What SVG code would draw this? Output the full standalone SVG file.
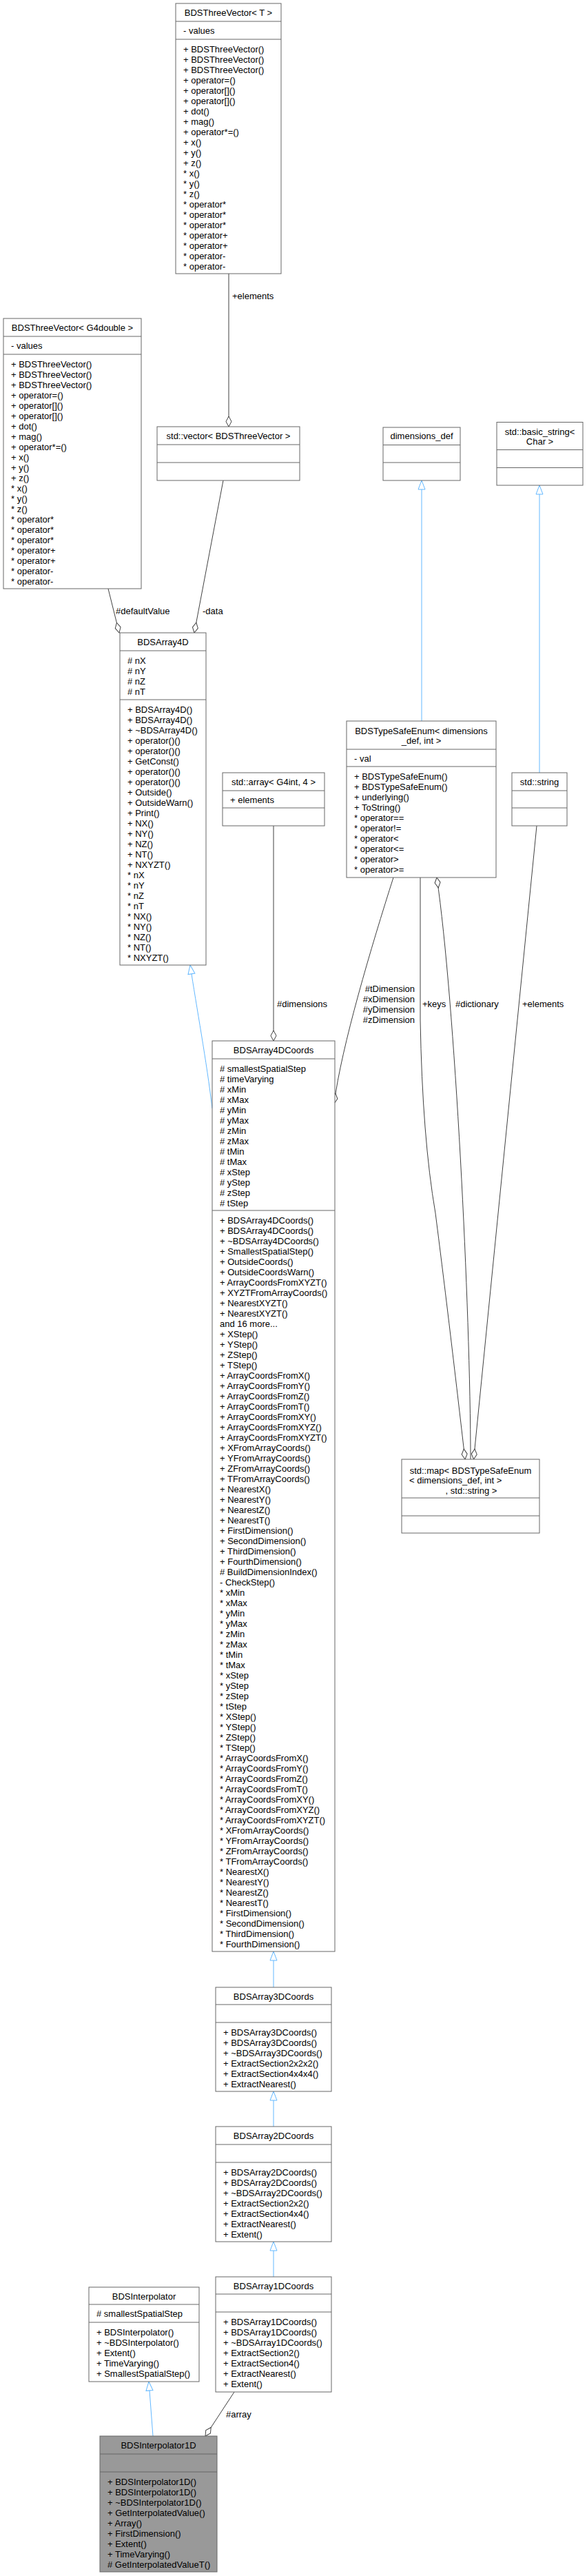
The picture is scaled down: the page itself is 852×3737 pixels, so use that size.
<svg xmlns="http://www.w3.org/2000/svg" width="852" height="3737" viewBox="0 0 852 3737">
<style>
.bg{fill:#fff}
.box{fill:#fff;stroke:#666;stroke-width:1}
.cur{fill:#999;stroke:#666;stroke-width:1}
.sep{stroke:#666;stroke-width:1}
text{font-family:"Liberation Sans",Arial,Helvetica,sans-serif;font-size:13px;fill:#000}
.c{text-anchor:middle}
.r{text-anchor:end}
.e{fill:none;stroke:#404040;stroke-width:1}
.i{fill:none;stroke:#63b8ff;stroke-width:1}
</style>
<defs>
<marker id="dia" viewBox="-16 -6 17 12" refX="0" refY="0" markerWidth="17" markerHeight="12" markerUnits="userSpaceOnUse" orient="auto">
<polygon points="0,0 -7.5,-4 -15,0 -7.5,4" fill="#fff" stroke="#404040" stroke-width="1"/>
</marker>
<marker id="tri" viewBox="-15 -7 16 14" refX="0" refY="0" markerWidth="16" markerHeight="14" markerUnits="userSpaceOnUse" orient="auto">
<polygon points="0,0 -13,-5 -13,5" fill="#fff" stroke="#63b8ff" stroke-width="1"/>
</marker>
</defs>
<rect class="bg" x="0" y="0" width="852" height="3737"/>

<g id="edges">
<path class="e" d="M332,397 L332,619" marker-end="url(#dia)"/>
<text x="337" y="434">+elements</text>
<path class="e" d="M157,854 L173,918" marker-end="url(#dia)"/>
<text x="168" y="891">#defaultValue</text>
<path class="e" d="M324,697 L282,918" marker-end="url(#dia)"/>
<text x="294" y="891">-data</text>
<path class="i" d="M612,1046 L612,697" marker-end="url(#tri)"/>
<path class="i" d="M783,1121 L783,704" marker-end="url(#tri)"/>
<path class="e" d="M397,1198 L397,1510" marker-end="url(#dia)"/>
<text x="402" y="1461">#dimensions</text>
<path class="e" d="M571,1273 C540,1370 495,1520 485,1601" marker-end="url(#dia)"/>
<text class="r" x="602" y="1438.5">#tDimension</text>
<text class="r" x="602" y="1453.5">#xDimension</text>
<text class="r" x="602" y="1468.5">#yDimension</text>
<text class="r" x="602" y="1483.5">#zDimension</text>
<path class="e" d="M610,1273 L610,1480 Q613,1650 632,1760 Q650,1900 675,2117" marker-end="url(#dia)"/>
<text x="613" y="1461">+keys</text>
<path class="e" d="M683,2117 C683,1900 660,1450 634,1273" marker-end="url(#dia)"/>
<text x="661" y="1461">#dictionary</text>
<path class="e" d="M779,1198 L687.5,2117" marker-end="url(#dia)"/>
<text x="758" y="1461">+elements</text>
<path class="i" d="M308,1608 C300,1540 285,1460 276,1400" marker-end="url(#tri)"/>
<path class="i" d="M397,2883 L397,2831" marker-end="url(#tri)"/>
<path class="i" d="M397,3085 L397,3034" marker-end="url(#tri)"/>
<path class="i" d="M397,3303 L397,3252" marker-end="url(#tri)"/>
<path class="i" d="M222,3534 L216,3455" marker-end="url(#tri)"/>
<path class="e" d="M340,3470 L298,3534" marker-end="url(#dia)"/>
<text x="328" y="3507">#array</text>
</g>

<g id="BDSThreeVector_T">
<rect class="box" x="255" y="5" width="153" height="392"/>
<line class="sep" x1="255" y1="31" x2="408" y2="31"/>
<line class="sep" x1="255" y1="57" x2="408" y2="57"/>
<text class="c" x="331.5" y="22.5">BDSThreeVector&lt; T &gt;</text>
<text x="266" y="49">- values</text>
<text x="266" y="75.5">+ BDSThreeVector()</text>
<text x="266" y="90.5">+ BDSThreeVector()</text>
<text x="266" y="105.5">+ BDSThreeVector()</text>
<text x="266" y="120.5">+ operator=()</text>
<text x="266" y="135.5">+ operator[]()</text>
<text x="266" y="150.5">+ operator[]()</text>
<text x="266" y="165.5">+ dot()</text>
<text x="266" y="180.5">+ mag()</text>
<text x="266" y="195.5">+ operator*=()</text>
<text x="266" y="210.5">+ x()</text>
<text x="266" y="225.5">+ y()</text>
<text x="266" y="240.5">+ z()</text>
<text x="266" y="255.5">* x()</text>
<text x="266" y="270.5">* y()</text>
<text x="266" y="285.5">* z()</text>
<text x="266" y="300.5">* operator*</text>
<text x="266" y="315.5">* operator*</text>
<text x="266" y="330.5">* operator*</text>
<text x="266" y="345.5">* operator+</text>
<text x="266" y="360.5">* operator+</text>
<text x="266" y="375.5">* operator-</text>
<text x="266" y="390.5">* operator-</text>
</g>

<g id="BDSThreeVector_G4double">
<rect class="box" x="5" y="462" width="200" height="392"/>
<line class="sep" x1="5" y1="488" x2="205" y2="488"/>
<line class="sep" x1="5" y1="514" x2="205" y2="514"/>
<text class="c" x="105" y="479.5">BDSThreeVector&lt; G4double &gt;</text>
<text x="16" y="506">- values</text>
<text x="16" y="532.5">+ BDSThreeVector()</text>
<text x="16" y="547.5">+ BDSThreeVector()</text>
<text x="16" y="562.5">+ BDSThreeVector()</text>
<text x="16" y="577.5">+ operator=()</text>
<text x="16" y="592.5">+ operator[]()</text>
<text x="16" y="607.5">+ operator[]()</text>
<text x="16" y="622.5">+ dot()</text>
<text x="16" y="637.5">+ mag()</text>
<text x="16" y="652.5">+ operator*=()</text>
<text x="16" y="667.5">+ x()</text>
<text x="16" y="682.5">+ y()</text>
<text x="16" y="697.5">+ z()</text>
<text x="16" y="712.5">* x()</text>
<text x="16" y="727.5">* y()</text>
<text x="16" y="742.5">* z()</text>
<text x="16" y="757.5">* operator*</text>
<text x="16" y="772.5">* operator*</text>
<text x="16" y="787.5">* operator*</text>
<text x="16" y="802.5">* operator+</text>
<text x="16" y="817.5">* operator+</text>
<text x="16" y="832.5">* operator-</text>
<text x="16" y="847.5">* operator-</text>
</g>

<g id="std_vector">
<rect class="box" x="228" y="619" width="207" height="78"/>
<line class="sep" x1="228" y1="645" x2="435" y2="645"/>
<line class="sep" x1="228" y1="671" x2="435" y2="671"/>
<text class="c" x="331.5" y="636.5">std::vector&lt; BDSThreeVector &gt;</text>
</g>

<g id="dimensions_def">
<rect class="box" x="556" y="620" width="112" height="77"/>
<line class="sep" x1="556" y1="645.5" x2="668" y2="645.5"/>
<line class="sep" x1="556" y1="671" x2="668" y2="671"/>
<text class="c" x="612" y="637">dimensions_def</text>
</g>

<g id="std_basic_string">
<rect class="box" x="721" y="612.5" width="125" height="91.5"/>
<line class="sep" x1="721" y1="652.5" x2="846" y2="652.5"/>
<line class="sep" x1="721" y1="678.5" x2="846" y2="678.5"/>
<text class="c" x="783.5" y="630.5">std::basic_string&lt;</text>
<text class="c" x="783.5" y="645">Char &gt;</text>
</g>

<g id="BDSTypeSafeEnum">
<rect class="box" x="503" y="1046" width="217" height="227"/>
<line class="sep" x1="503" y1="1087" x2="720" y2="1087"/>
<line class="sep" x1="503" y1="1112" x2="720" y2="1112"/>
<text class="c" x="611.5" y="1064.5">BDSTypeSafeEnum&lt; dimensions</text>
<text class="c" x="611.5" y="1079">_def, int &gt;</text>
<text x="514" y="1104.5">- val</text>
<text x="514" y="1130.5">+ BDSTypeSafeEnum()</text>
<text x="514" y="1145.5">+ BDSTypeSafeEnum()</text>
<text x="514" y="1160.5">+ underlying()</text>
<text x="514" y="1175.5">+ ToString()</text>
<text x="514" y="1190.5">* operator==</text>
<text x="514" y="1205.5">* operator!=</text>
<text x="514" y="1220.5">* operator&lt;</text>
<text x="514" y="1235.5">* operator&lt;=</text>
<text x="514" y="1250.5">* operator&gt;</text>
<text x="514" y="1265.5">* operator&gt;=</text>
</g>

<g id="std_string">
<rect class="box" x="743" y="1121" width="80" height="77"/>
<line class="sep" x1="743" y1="1147" x2="823" y2="1147"/>
<line class="sep" x1="743" y1="1172" x2="823" y2="1172"/>
<text class="c" x="783" y="1138.5">std::string</text>
</g>

<g id="std_array">
<rect class="box" x="323" y="1121" width="148" height="77"/>
<line class="sep" x1="323" y1="1147" x2="471" y2="1147"/>
<line class="sep" x1="323" y1="1172" x2="471" y2="1172"/>
<text class="c" x="397" y="1138.5">std::array&lt; G4int, 4 &gt;</text>
<text x="334" y="1165">+ elements</text>
</g>

<g id="BDSArray4D">
<rect class="box" x="174" y="918" width="125" height="482"/>
<line class="sep" x1="174" y1="944" x2="299" y2="944"/>
<line class="sep" x1="174" y1="1015" x2="299" y2="1015"/>
<text class="c" x="236.5" y="935.5">BDSArray4D</text>
<text x="185" y="962.5"># nX</text>
<text x="185" y="977.5"># nY</text>
<text x="185" y="992.5"># nZ</text>
<text x="185" y="1007.5"># nT</text>
<text x="185" y="1033.5">+ BDSArray4D()</text>
<text x="185" y="1048.5">+ BDSArray4D()</text>
<text x="185" y="1063.5">+ ~BDSArray4D()</text>
<text x="185" y="1078.5">+ operator()()</text>
<text x="185" y="1093.5">+ operator()()</text>
<text x="185" y="1108.5">+ GetConst()</text>
<text x="185" y="1123.5">+ operator()()</text>
<text x="185" y="1138.5">+ operator()()</text>
<text x="185" y="1153.5">+ Outside()</text>
<text x="185" y="1168.5">+ OutsideWarn()</text>
<text x="185" y="1183.5">+ Print()</text>
<text x="185" y="1198.5">+ NX()</text>
<text x="185" y="1213.5">+ NY()</text>
<text x="185" y="1228.5">+ NZ()</text>
<text x="185" y="1243.5">+ NT()</text>
<text x="185" y="1258.5">+ NXYZT()</text>
<text x="185" y="1273.5">* nX</text>
<text x="185" y="1288.5">* nY</text>
<text x="185" y="1303.5">* nZ</text>
<text x="185" y="1318.5">* nT</text>
<text x="185" y="1333.5">* NX()</text>
<text x="185" y="1348.5">* NY()</text>
<text x="185" y="1363.5">* NZ()</text>
<text x="185" y="1378.5">* NT()</text>
<text x="185" y="1393.5">* NXYZT()</text>
</g>

<g id="std_map">
<rect class="box" x="583" y="2117" width="200" height="107"/>
<line class="sep" x1="583" y1="2173" x2="783" y2="2173"/>
<line class="sep" x1="583" y1="2199" x2="783" y2="2199"/>
<text class="c" x="683" y="2137.5">std::map&lt; BDSTypeSafeEnum</text>
<text x="594" y="2152">&lt; dimensions_def, int &gt;</text>
<text class="c" x="684" y="2166.5">, std::string &gt;</text>
</g>

<g id="BDSArray4DCoords">
<rect class="box" x="308" y="1510" width="178" height="1321"/>
<line class="sep" x1="308" y1="1536" x2="486" y2="1536"/>
<line class="sep" x1="308" y1="1756" x2="486" y2="1756"/>
<text class="c" x="397" y="1527.5">BDSArray4DCoords</text>
<text x="319" y="1554.5"># smallestSpatialStep</text>
<text x="319" y="1569.5"># timeVarying</text>
<text x="319" y="1584.5"># xMin</text>
<text x="319" y="1599.5"># xMax</text>
<text x="319" y="1614.5"># yMin</text>
<text x="319" y="1629.5"># yMax</text>
<text x="319" y="1644.5"># zMin</text>
<text x="319" y="1659.5"># zMax</text>
<text x="319" y="1674.5"># tMin</text>
<text x="319" y="1689.5"># tMax</text>
<text x="319" y="1704.5"># xStep</text>
<text x="319" y="1719.5"># yStep</text>
<text x="319" y="1734.5"># zStep</text>
<text x="319" y="1749.5"># tStep</text>
<text x="319" y="1774.5">+ BDSArray4DCoords()</text>
<text x="319" y="1789.5">+ BDSArray4DCoords()</text>
<text x="319" y="1804.5">+ ~BDSArray4DCoords()</text>
<text x="319" y="1819.5">+ SmallestSpatialStep()</text>
<text x="319" y="1834.5">+ OutsideCoords()</text>
<text x="319" y="1849.5">+ OutsideCoordsWarn()</text>
<text x="319" y="1864.5">+ ArrayCoordsFromXYZT()</text>
<text x="319" y="1879.5">+ XYZTFromArrayCoords()</text>
<text x="319" y="1894.5">+ NearestXYZT()</text>
<text x="319" y="1909.5">+ NearestXYZT()</text>
<text x="319" y="1924.5">and 16 more...</text>
<text x="319" y="1939.5">+ XStep()</text>
<text x="319" y="1954.5">+ YStep()</text>
<text x="319" y="1969.5">+ ZStep()</text>
<text x="319" y="1984.5">+ TStep()</text>
<text x="319" y="1999.5">+ ArrayCoordsFromX()</text>
<text x="319" y="2014.5">+ ArrayCoordsFromY()</text>
<text x="319" y="2029.5">+ ArrayCoordsFromZ()</text>
<text x="319" y="2044.5">+ ArrayCoordsFromT()</text>
<text x="319" y="2059.5">+ ArrayCoordsFromXY()</text>
<text x="319" y="2074.5">+ ArrayCoordsFromXYZ()</text>
<text x="319" y="2089.5">+ ArrayCoordsFromXYZT()</text>
<text x="319" y="2104.5">+ XFromArrayCoords()</text>
<text x="319" y="2119.5">+ YFromArrayCoords()</text>
<text x="319" y="2134.5">+ ZFromArrayCoords()</text>
<text x="319" y="2149.5">+ TFromArrayCoords()</text>
<text x="319" y="2164.5">+ NearestX()</text>
<text x="319" y="2179.5">+ NearestY()</text>
<text x="319" y="2194.5">+ NearestZ()</text>
<text x="319" y="2209.5">+ NearestT()</text>
<text x="319" y="2224.5">+ FirstDimension()</text>
<text x="319" y="2239.5">+ SecondDimension()</text>
<text x="319" y="2254.5">+ ThirdDimension()</text>
<text x="319" y="2269.5">+ FourthDimension()</text>
<text x="319" y="2284.5"># BuildDimensionIndex()</text>
<text x="319" y="2299.5">- CheckStep()</text>
<text x="319" y="2314.5">* xMin</text>
<text x="319" y="2329.5">* xMax</text>
<text x="319" y="2344.5">* yMin</text>
<text x="319" y="2359.5">* yMax</text>
<text x="319" y="2374.5">* zMin</text>
<text x="319" y="2389.5">* zMax</text>
<text x="319" y="2404.5">* tMin</text>
<text x="319" y="2419.5">* tMax</text>
<text x="319" y="2434.5">* xStep</text>
<text x="319" y="2449.5">* yStep</text>
<text x="319" y="2464.5">* zStep</text>
<text x="319" y="2479.5">* tStep</text>
<text x="319" y="2494.5">* XStep()</text>
<text x="319" y="2509.5">* YStep()</text>
<text x="319" y="2524.5">* ZStep()</text>
<text x="319" y="2539.5">* TStep()</text>
<text x="319" y="2554.5">* ArrayCoordsFromX()</text>
<text x="319" y="2569.5">* ArrayCoordsFromY()</text>
<text x="319" y="2584.5">* ArrayCoordsFromZ()</text>
<text x="319" y="2599.5">* ArrayCoordsFromT()</text>
<text x="319" y="2614.5">* ArrayCoordsFromXY()</text>
<text x="319" y="2629.5">* ArrayCoordsFromXYZ()</text>
<text x="319" y="2644.5">* ArrayCoordsFromXYZT()</text>
<text x="319" y="2659.5">* XFromArrayCoords()</text>
<text x="319" y="2674.5">* YFromArrayCoords()</text>
<text x="319" y="2689.5">* ZFromArrayCoords()</text>
<text x="319" y="2704.5">* TFromArrayCoords()</text>
<text x="319" y="2719.5">* NearestX()</text>
<text x="319" y="2734.5">* NearestY()</text>
<text x="319" y="2749.5">* NearestZ()</text>
<text x="319" y="2764.5">* NearestT()</text>
<text x="319" y="2779.5">* FirstDimension()</text>
<text x="319" y="2794.5">* SecondDimension()</text>
<text x="319" y="2809.5">* ThirdDimension()</text>
<text x="319" y="2824.5">* FourthDimension()</text>
</g>

<g id="BDSArray3DCoords">
<rect class="box" x="313" y="2883" width="168" height="151"/>
<line class="sep" x1="313" y1="2908" x2="481" y2="2908"/>
<line class="sep" x1="313" y1="2934" x2="481" y2="2934"/>
<text class="c" x="397" y="2900.5">BDSArray3DCoords</text>
<text x="324" y="2952.5">+ BDSArray3DCoords()</text>
<text x="324" y="2967.5">+ BDSArray3DCoords()</text>
<text x="324" y="2982.5">+ ~BDSArray3DCoords()</text>
<text x="324" y="2997.5">+ ExtractSection2x2x2()</text>
<text x="324" y="3012.5">+ ExtractSection4x4x4()</text>
<text x="324" y="3027.5">+ ExtractNearest()</text>
</g>

<g id="BDSArray2DCoords">
<rect class="box" x="313" y="3085" width="168" height="167"/>
<line class="sep" x1="313" y1="3111" x2="481" y2="3111"/>
<line class="sep" x1="313" y1="3137" x2="481" y2="3137"/>
<text class="c" x="397" y="3102.5">BDSArray2DCoords</text>
<text x="324" y="3155.5">+ BDSArray2DCoords()</text>
<text x="324" y="3170.5">+ BDSArray2DCoords()</text>
<text x="324" y="3185.5">+ ~BDSArray2DCoords()</text>
<text x="324" y="3200.5">+ ExtractSection2x2()</text>
<text x="324" y="3215.5">+ ExtractSection4x4()</text>
<text x="324" y="3230.5">+ ExtractNearest()</text>
<text x="324" y="3245.5">+ Extent()</text>
</g>

<g id="BDSArray1DCoords">
<rect class="box" x="313" y="3303" width="168" height="167"/>
<line class="sep" x1="313" y1="3328" x2="481" y2="3328"/>
<line class="sep" x1="313" y1="3354" x2="481" y2="3354"/>
<text class="c" x="397" y="3320.5">BDSArray1DCoords</text>
<text x="324" y="3372.5">+ BDSArray1DCoords()</text>
<text x="324" y="3387.5">+ BDSArray1DCoords()</text>
<text x="324" y="3402.5">+ ~BDSArray1DCoords()</text>
<text x="324" y="3417.5">+ ExtractSection2()</text>
<text x="324" y="3432.5">+ ExtractSection4()</text>
<text x="324" y="3447.5">+ ExtractNearest()</text>
<text x="324" y="3462.5">+ Extent()</text>
</g>

<g id="BDSInterpolator">
<rect class="box" x="129" y="3318" width="160" height="137"/>
<line class="sep" x1="129" y1="3343" x2="289" y2="3343"/>
<line class="sep" x1="129" y1="3369" x2="289" y2="3369"/>
<text class="c" x="209" y="3335.5">BDSInterpolator</text>
<text x="140" y="3361"># smallestSpatialStep</text>
<text x="140" y="3387.5">+ BDSInterpolator()</text>
<text x="140" y="3402.5">+ ~BDSInterpolator()</text>
<text x="140" y="3417.5">+ Extent()</text>
<text x="140" y="3432.5">+ TimeVarying()</text>
<text x="140" y="3447.5">+ SmallestSpatialStep()</text>
</g>

<g id="BDSInterpolator1D">
<rect class="cur" x="145" y="3534" width="170" height="197"/>
<line class="sep" x1="145" y1="3560" x2="315" y2="3560"/>
<line class="sep" x1="145" y1="3586" x2="315" y2="3586"/>
<text class="c" x="230" y="3551.5">BDSInterpolator1D</text>
<text x="156" y="3604.5">+ BDSInterpolator1D()</text>
<text x="156" y="3619.5">+ BDSInterpolator1D()</text>
<text x="156" y="3634.5">+ ~BDSInterpolator1D()</text>
<text x="156" y="3649.5">+ GetInterpolatedValue()</text>
<text x="156" y="3664.5">+ Array()</text>
<text x="156" y="3679.5">+ FirstDimension()</text>
<text x="156" y="3694.5">+ Extent()</text>
<text x="156" y="3709.5">+ TimeVarying()</text>
<text x="156" y="3724.5"># GetInterpolatedValueT()</text>
</g>
</svg>
